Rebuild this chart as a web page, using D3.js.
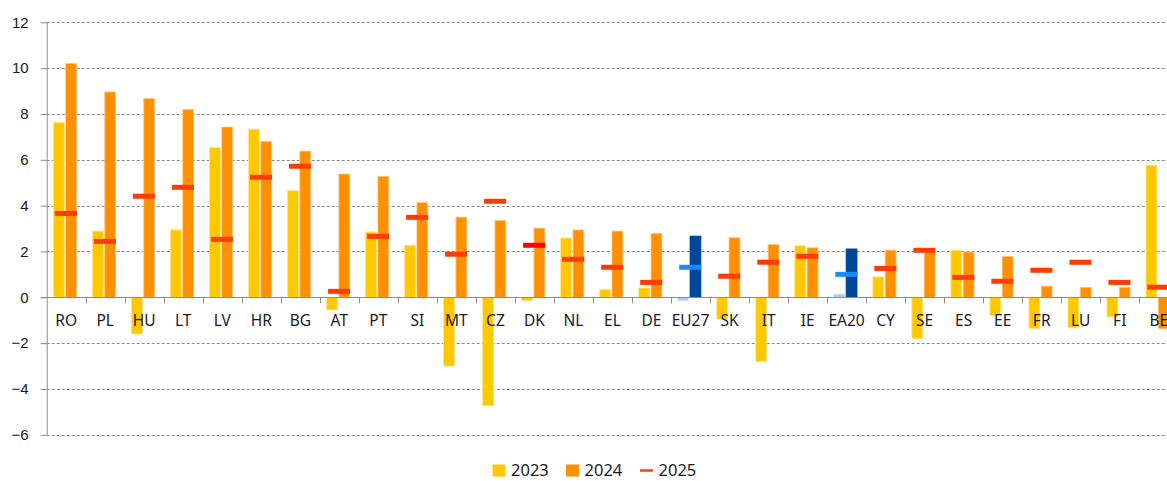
<!DOCTYPE html>
<html lang="en">
<head>
<meta charset="utf-8">
<title>2023 / 2024 / 2025</title>
<script src="https://cdn.jsdelivr.net/npm/d3@7"></script>
<style>
  body { margin: 0; background: #fff; }
  svg { display: block; font-family: "Noto Sans", "Open Sans", sans-serif; }
  .grid line { stroke: #8c8c8c; stroke-dasharray: 3 2; stroke-width: 1; }
  .axis path, .axis line { stroke: #8c8c8c; }
  .axis text { fill: #1a1a1a; font-size: 15px; }
</style>
</head>
<body>
<script>
var categories = ["RO","PL","HU","LT","LV","HR","BG","AT","PT","SI","MT","CZ","DK","NL","EL","DE","EU27","SK","IT","IE","EA20","CY","SE","ES","EE","FR","LU","FI","BE"]
var v2023 = [7.62, 2.89, -1.60, 2.94, 6.53, 7.34, 4.65, -0.55, 2.85, 2.27, -3.00, -4.73, -0.15, 2.59, 0.35, 0.41, -0.15, -0.95, -2.81, 2.25, 0.14, 0.89, -1.80, 2.06, -0.80, -1.37, -1.33, -0.85, 5.76]
var v2024 = [10.21, 8.96, 8.67, 8.20, 7.43, 6.81, 6.38, 5.38, 5.28, 4.13, 3.50, 3.36, 3.02, 2.94, 2.89, 2.79, 2.67, 2.60, 2.31, 2.16, 2.11, 2.06, 1.98, 1.98, 1.79, 0.49, 0.44, 0.44, -1.37]
var v2025 = [3.66, 2.44, 4.41, 4.80, 2.53, 5.24, 5.72, 0.26, 2.66, 3.49, 1.88, 4.19, 2.27, 1.66, 1.31, 0.65, 1.31, 0.92, 1.53, 1.79, 1.00, 1.26, 2.05, 0.87, 0.70, 1.18, 1.53, 0.65, 0.44]
var yTicks = [-6, -4, -2, 0, 2, 4, 6, 8, 10, 12]
var aggregates = ["EU27", "EA20"]   // drawn in blues
var legendYears = ["2023", "2024", "2025"]

var w = 1167
var h = 481
var x0 = 46.7               // y axis position
var step = 39.02            // width of one category slot

var colors = {
  y23: "#ffc800", y24: "#ff9000", y25: "#ff3c00",
  a23: "#a8ccf2", a24: "#00479a", a25: "#1e88ff"
}

var svg = d3.select("body").append("svg")
  .attr("width", w)
  .attr("height", h)

var x = d3.scaleBand()
  .domain(categories)
  .range([x0, x0 + step * categories.length])

var y = d3.scaleLinear()
  .domain([-6, 12])
  .range([434.8, 22.3])

var bw = x.bandwidth()

// dashed gridlines
svg.append("g")
  .attr("class", "grid")
  .selectAll("line")
  .data(yTicks.filter(function (d) { return d != 0 }))
  .enter()
  .append("line")
  .attr("x1", x0)
  .attr("x2", w)
  .attr("y1", function (d) { return Math.round(y(d)) + 0.5 })
  .attr("y2", function (d) { return Math.round(y(d)) + 0.5 })

// y axis
var yAxis = svg.append("g")
  .attr("class", "axis")
  .attr("transform", "translate(" + x0 + ",0)")
  .call(d3.axisLeft(y).tickValues(yTicks).tickSize(6).tickPadding(12))
yAxis.select(".domain").attr("d", "M0.5," + y(-6) + "V" + y(12))

function isAgg(c) { return aggregates.indexOf(c) >= 0 }

var rows = categories.map(function (c, i) {
  return { c: c, a: v2023[i], b: v2024[i], m: v2025[i] }
})

// 2023 bars
svg.selectAll("rect.b23")
  .data(rows)
  .enter()
  .append("rect")
  .attr("class", "b23")
  .attr("x", function (d) { return x(d.c) + bw * 0.172 })
  .attr("width", bw * 0.28)
  .attr("y", function (d) { return y(Math.max(0, d.a)) })
  .attr("height", function (d) { return Math.abs(y(d.a) - y(0)) })
  .attr("fill", function (d) { return isAgg(d.c) ? colors.a23 : colors.y23 })
  .attr("stroke", function (d) { return isAgg(d.c) ? "#d4e6f8" : "#ffe58a" })
  .attr("stroke-width", 0.8)

// 2024 bars
svg.selectAll("rect.b24")
  .data(rows)
  .enter()
  .append("rect")
  .attr("class", "b24")
  .attr("x", function (d) { return x(d.c) + bw * 0.487 })
  .attr("width", bw * 0.28)
  .attr("y", function (d) { return y(Math.max(0, d.b)) })
  .attr("height", function (d) { return Math.abs(y(d.b) - y(0)) })
  .attr("fill", function (d) { return isAgg(d.c) ? colors.a24 : colors.y24 })
  .attr("stroke", function (d) { return isAgg(d.c) ? colors.a24 : "#ffc98a" })
  .attr("stroke-width", 0.8)

// x axis line and ticks
svg.append("line")
  .attr("x1", x0 - 6)
  .attr("x2", w)
  .attr("y1", Math.round(y(0)) + 0.5)
  .attr("y2", Math.round(y(0)) + 0.5)
  .attr("stroke", "#8c8c8c")

svg.selectAll("line.xtick")
  .data(categories)
  .enter()
  .append("line")
  .attr("class", "xtick")
  .attr("x1", function (d) { return Math.round(x(d) + bw) + 0.5 })
  .attr("x2", function (d) { return Math.round(x(d) + bw) + 0.5 })
  .attr("y1", y(0))
  .attr("y2", y(0) + 6)
  .attr("stroke", "#8c8c8c")

// 2025 markers
svg.selectAll("rect.m25")
  .data(rows)
  .enter()
  .append("rect")
  .attr("class", "m25")
  .attr("x", function (d) { return x(d.c) + bw * 0.21 })
  .attr("width", bw * 0.565)
  .attr("y", function (d) { return y(d.m) - 2.5 })
  .attr("height", 5)
  .attr("fill", function (d) {
    if (isAgg(d.c)) return colors.a25
    if (d.c == "DK") return "#ff0000"
    return colors.y25
  })

// category labels
svg.selectAll("text.cat")
  .data(categories)
  .enter()
  .append("text")
  .attr("class", "cat")
  .attr("x", function (d) { return x(d) + bw / 2 })
  .attr("y", 326)
  .attr("text-anchor", "middle")
  .attr("font-size", "15.5px")
  .attr("fill", "#1a1a1a")
  .text(function (d) { return d })

// legend
var legendX = [492.5, 566, 640]
var lg = svg.selectAll("g.legend")
  .data(legendYears)
  .enter()
  .append("g")
  .attr("class", "legend")
  .attr("transform", function (d, i) { return "translate(" + legendX[i] + ",0)" })

lg.each(function (d, i) {
  var g = d3.select(this)
  if (i < 2) {
    g.append("rect")
      .attr("x", 0).attr("y", 464.5)
      .attr("width", 13).attr("height", 12)
      .attr("fill", i == 0 ? colors.y23 : colors.y24)
  } else {
    g.append("rect")
      .attr("x", 0).attr("y", 469.3)
      .attr("width", 13).attr("height", 2.4)
      .attr("fill", colors.y25)
  }
  g.append("text")
    .attr("x", 18.5)
    .attr("y", 476.3)
    .attr("font-size", "16.5px")
    .attr("fill", "#1a1a1a")
    .text(d)
})
</script>
</body>
</html>
